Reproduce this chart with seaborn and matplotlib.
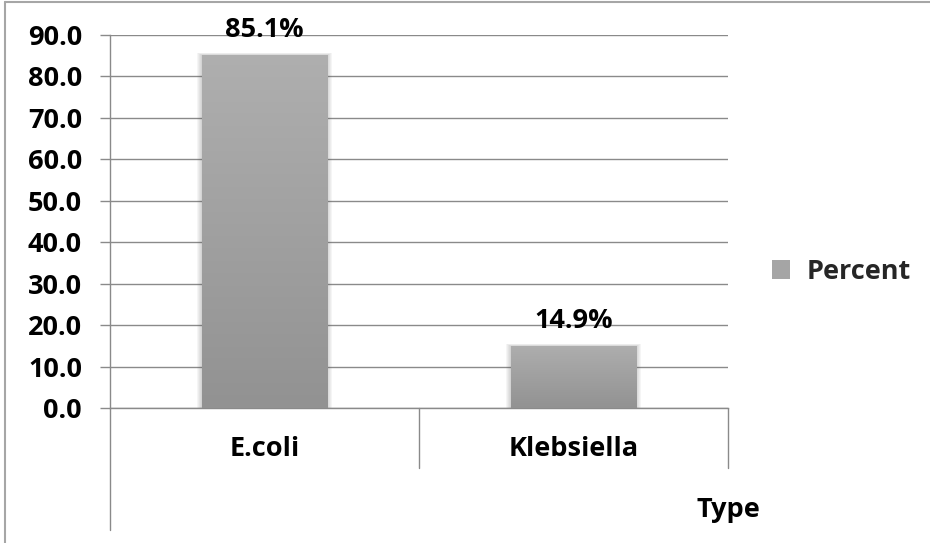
import numpy as np
import pandas as pd
import matplotlib
matplotlib.use("Agg")
import matplotlib.pyplot as plt
import matplotlib.transforms as mtransforms
from matplotlib.colors import LinearSegmentedColormap
from matplotlib.lines import Line2D
from matplotlib.patches import Patch, Rectangle
import seaborn as sns

# Data
types = ["E.coli", "Klebsiella"]
percent = [85.1, 14.9]
series_name = "Percent"
axis_title = "Type"
y_ticks = [0, 10, 20, 30, 40, 50, 60, 70, 80, 90]

df = pd.DataFrame({"Type": types, series_name: percent})

sns.set_theme(style="white")
plt.rcParams["font.family"] = ["Open Sans", "DejaVu Sans"]
plt.rcParams["font.weight"] = "bold"

W, H = 930, 543
fig = plt.figure(figsize=(W / 100, H / 100), dpi=100)
ax = fig.add_axes([110 / W, 1 - 408 / H, 618 / W, 373 / H])

grid_col = "#8a8a8a"
fs = 19.5

sns.barplot(data=df, x="Type", y=series_name, color="#a0a0a0",
            width=0.405, ax=ax, zorder=3, saturation=1, linewidth=0,
            edgecolor="none")

# vertical gradient fill and soft shadow for each bar
cmap = LinearSegmentedColormap.from_list("bar", ["#929292", "#afafaf"])
grad = np.linspace(0, 1, 256).reshape(-1, 1)
px_x = 618 / 2.0   # pixels per category unit
px_y = 373 / 90.0  # pixels per value unit
for p in list(ax.patches):
    x0, y0, w, h = p.get_x(), p.get_y(), p.get_width(), p.get_height()
    for k in range(1, 6):
        ax.add_patch(Rectangle((x0 - k / px_x, y0), w + 2 * k / px_x,
                               h + 0.5 * k / px_y, facecolor="#606060",
                               edgecolor="none", alpha=0.06, zorder=2.5))
    ex = 3 / px_x
    ey = 3 / px_y
    im = ax.imshow(grad, cmap=cmap,
                   extent=[x0 - ex, x0 + w + ex, y0, y0 + h + ey],
                   origin="lower", aspect="auto", zorder=3.5,
                   interpolation="nearest")
    im.set_clip_path(p)

ax.set_xlim(-0.5, 1.5)
ax.set_ylim(0, 90)

# value labels
for cont in ax.containers:
    ax.bar_label(cont, labels=[f"{v:.1f}%" for v in percent], padding=9,
                 fontsize=fs, fontweight="bold", color="black", zorder=5)

# axes styling
ax.set_yticks(y_ticks)
ax.set_yticklabels([f"{v:.1f}" for v in y_ticks])
ax.yaxis.grid(True, color=grid_col, lw=1.0, zorder=2.6)
ax.xaxis.grid(False)
for s in ["top", "right"]:
    ax.spines[s].set_visible(False)
for s in ["left", "bottom"]:
    ax.spines[s].set_color(grid_col)
    ax.spines[s].set_linewidth(1.0)
ax.tick_params(axis="y", direction="out", length=7.2, width=1.0,
               color=grid_col, pad=13, labelsize=fs, left=True)
ax.tick_params(axis="x", length=0, pad=20, labelsize=fs)
for lab in ax.get_xticklabels() + ax.get_yticklabels():
    lab.set_fontweight("bold")
    lab.set_color("black")
ax.set_ylabel("")

# category separators below the axis
trans = mtransforms.blended_transform_factory(ax.transData, ax.transAxes)
ax.plot([-0.5, -0.5], [0, -122 / 373], transform=trans, color=grid_col,
        lw=1.0, clip_on=False)
for xs in [0.5, 1.5]:
    ax.plot([xs, xs], [0, -60 / 373], transform=trans, color=grid_col,
            lw=1.0, clip_on=False)

# axis title
ax.set_xlabel(axis_title, fontsize=fs, fontweight="bold", color="black")
ax.xaxis.set_label_coords(1.0, -(510 - 408) / 373)
ax.xaxis.label.set_va("center")

# legend
ax.legend(handles=[Patch(facecolor="#a5a5a5", edgecolor="none",
                         label=series_name)],
          loc="center left", bbox_to_anchor=((772 - 110) / 618, (408 - 272) / 373),
          frameon=False, borderpad=0, borderaxespad=0, handlelength=0.66,
          handleheight=0.66, handletextpad=0.6,
          prop={"size": fs, "weight": "bold"})

# chart border
border = "#a6a6a6"
fig.add_artist(Line2D([5 / W, 5 / W], [0, 1 - 2 / H], transform=fig.transFigure,
                      color=border, lw=1.5))
fig.add_artist(Line2D([5 / W, 1], [1 - 2 / H, 1 - 2 / H],
                      transform=fig.transFigure, color=border, lw=1.5))

fig.savefig("out.png", dpi=100)
